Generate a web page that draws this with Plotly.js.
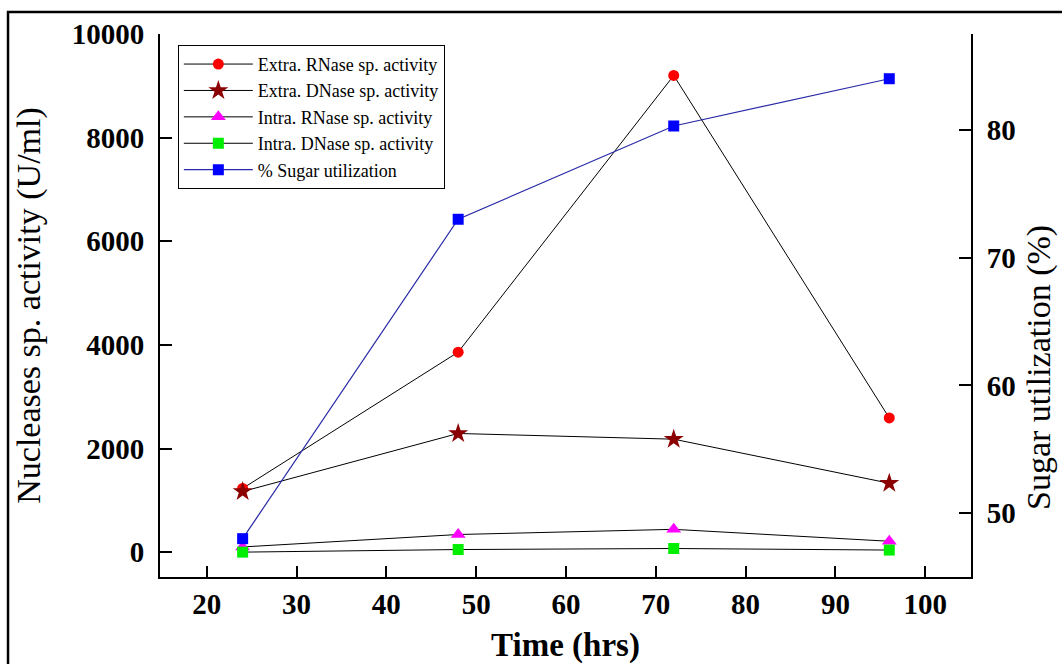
<!DOCTYPE html>
<html>
<head>
<meta charset="utf-8">
<script src="https://cdn.plot.ly/plotly-3.0.1.min.js"></script>
<style>
html,body{margin:0;padding:0;background:#fff;}
#chart{width:1062px;height:664px;}
</style>
</head>
<body>
<div id="chart"></div>
<script>
// Data
const timeHrs = [24, 48, 72, 96];
const extraRNase = [1230, 3860, 9200, 2590];
const extraDNase = [1170, 2290, 2180, 1330];
const intraRNase = [100, 340, 440, 210];
const intraDNase = [0, 50, 70, 40];
const sugarUtil = [48.0, 73.0, 80.3, 84.0];

const seriesNames = [
  "Extra. RNase sp. activity",
  "Extra. DNase sp. activity",
  "Intra. RNase sp. activity",
  "Intra. DNase sp. activity",
  "% Sugar utilization"
];
const leftTicks = [0, 2000, 4000, 6000, 8000, 10000];
const leftTickText = ["0", "2000", "4000", "6000", "8000", "10000"];
const rightTicks = [50, 60, 70, 80];
const rightTickText = ["50", "60", "70", "80"];
const xTicks = [20, 30, 40, 50, 60, 70, 80, 90, 100];
const xTickText = ["20", "30", "40", "50", "60", "70", "80", "90", "100"];

const xTitle = "Time (hrs)";
const yTitle = "Nucleases sp. activity (U/ml)";
const y2Title = "Sugar utilization (%)";

const serif = "Liberation Serif, Times New Roman, serif";

const traces = [
  {x: timeHrs, y: extraRNase, name: seriesNames[0], mode: "lines+markers",
   line: {color: "#000", width: 1},
   marker: {symbol: "circle", size: 11, color: "#ff0000"}},
  {x: timeHrs, y: extraDNase, name: seriesNames[1], mode: "lines+markers",
   line: {color: "#000", width: 1},
   marker: {symbol: "star", size: 15, color: "#8b0000"}},
  {x: timeHrs, y: intraRNase, name: seriesNames[2], mode: "lines+markers",
   line: {color: "#000", width: 1},
   marker: {symbol: "triangle-up", size: 13, color: "#ff00ff"}},
  {x: timeHrs, y: intraDNase, name: seriesNames[3], mode: "lines+markers",
   line: {color: "#000", width: 1},
   marker: {symbol: "square", size: 11, color: "#00ee00"}},
  {x: timeHrs, y: sugarUtil, name: seriesNames[4], mode: "lines+markers", yaxis: "y2",
   line: {color: "#2a2aa8", width: 1.2},
   marker: {symbol: "square", size: 11, color: "#0000ff"}}
];

const tickFont = {family: serif, size: 29, color: "#000", weight: "bold"};

const layout = {
  width: 1062, height: 664,
  margin: {l: 160, r: 91, t: 34, b: 87},
  paper_bgcolor: "#fff", plot_bgcolor: "#fff",
  font: {family: serif, color: "#000"},
  showlegend: true,
  legend: {
    x: 0.022, y: 0.98, xanchor: "left", yanchor: "top",
    bgcolor: "#fff", bordercolor: "#000", borderwidth: 1,
    font: {family: serif, size: 18, color: "#000"},
    itemwidth: 69, tracegroupgap: 0
  },
  xaxis: {
    range: [14.8, 105.1], tickvals: xTicks, ticktext: xTickText,
    ticks: "inside", ticklen: 11, tickwidth: 2, tickcolor: "#000",
    showline: true, linecolor: "#000", linewidth: 2,
    showgrid: false, zeroline: false, mirror: false,
    tickfont: tickFont,
    ticklabelstandoff: 0,
    title: {text: "<b>" + xTitle + "</b>", font: {family: serif, size: 33, color: "#000"}, standoff: 16}
  },
  yaxis: {
    range: [-480, 10000], tickvals: leftTicks, ticktext: leftTickText,
    ticks: "inside", ticklen: 12, tickwidth: 2, tickcolor: "#000",
    showline: true, linecolor: "#000", linewidth: 2,
    showgrid: false, zeroline: false,
    tickfont: tickFont,
    ticklabelstandoff: 8,
    title: {text: yTitle, font: {family: serif, size: 34, color: "#000"}, standoff: 21}
  },
  yaxis2: {
    overlaying: "y", side: "right",
    range: [45, 87.5], tickvals: rightTicks, ticktext: rightTickText,
    ticks: "inside", ticklen: 12, tickwidth: 2, tickcolor: "#000",
    showline: true, linecolor: "#000", linewidth: 2,
    showgrid: false, zeroline: false,
    tickfont: tickFont,
    ticklabelstandoff: 8
  },
  annotations: [
    {text: y2Title, xref: "paper", yref: "paper", x: 1.0838, y: 0.3867,
     xanchor: "center", yanchor: "middle", textangle: -90, showarrow: false,
     borderpad: 0,
     font: {family: serif, size: 34, color: "#000"}}
  ],
  shapes: [
    {type: "rect", xref: "paper", yref: "paper",
     x0: -0.1874, x1: 1.2, y0: -0.4, y1: 1.0405,
     line: {color: "#000", width: 2.5}, fillcolor: "rgba(0,0,0,0)", layer: "below"}
  ]
};

Plotly.newPlot("chart", traces, layout, {displayModeBar: false, staticPlot: true});
</script>
</body>
</html>
